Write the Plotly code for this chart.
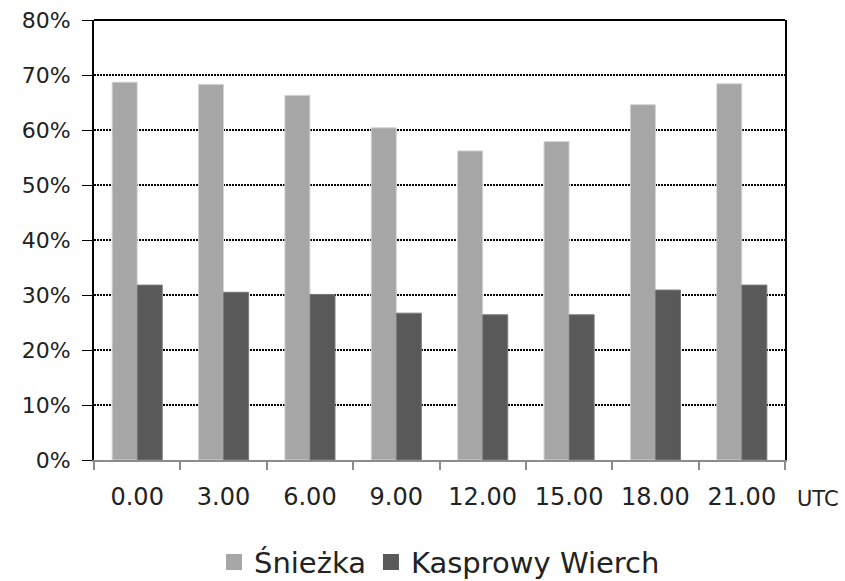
import plotly.graph_objects as go

# Hourly share of observations (%) at two mountain stations
hours = ["0.00", "3.00", "6.00", "9.00", "12.00", "15.00", "18.00", "21.00"]
sniezka = [68.7, 68.3, 66.3, 60.4, 56.2, 57.9, 64.6, 68.4]
kasprowy = [31.8, 30.5, 30.1, 26.7, 26.4, 26.4, 30.9, 31.8]

series_names = ["Śnieżka", "Kasprowy Wierch"]
series_colors = ["#a6a6a6", "#595959"]
edge_colors = ["#d4d4d4", "#7a7a7a"]

fig = go.Figure()
for name, vals, col, edge in zip(series_names, [sniezka, kasprowy], series_colors, edge_colors):
    fig.add_trace(go.Bar(
        x=hours, y=[v / 100 for v in vals], name=name,
        marker=dict(color=col, line=dict(color=edge, width=1)),
        showlegend=False,
    ))
    # legend swatch
    fig.add_trace(go.Scatter(
        x=[None], y=[None], mode="markers", name=name,
        marker=dict(symbol="square", color=col, size=16),
        showlegend=True,
    ))

fig.update_layout(
    width=845, height=581,
    margin=dict(l=94, r=60, t=20, b=121, autoexpand=False),
    paper_bgcolor="white", plot_bgcolor="white",
    barmode="group", bargap=0.42, bargroupgap=0,
    font=dict(family="DejaVu Sans", color="#222222"),
    legend=dict(
        orientation="h", x=0.5, xanchor="center", y=-0.232, yanchor="middle",
        font=dict(size=29, family="DejaVu Sans", color="#222222"),
        itemsizing="trace", tracegroupgap=0, itemwidth=30,
    ),
    showlegend=True,
)

fig.update_yaxes(
    range=[0, 0.8], dtick=0.1, tickformat=".0%", ticksuffix="\u00a0",
    showgrid=True, gridcolor="black", gridwidth=2, griddash="2px,1px",
    showline=True, linecolor="black", linewidth=2, mirror=True,
    ticks="outside", ticklen=10, tickcolor="black", tickwidth=1,
    tickfont=dict(size=22, family="DejaVu Sans", color="#222222"),
    zeroline=False,
)

fig.update_xaxes(
    type="category", showgrid=False,
    showline=True, linecolor="#8c8c8c", linewidth=2,
    ticks="outside", tickson="boundaries", ticklen=8, tickcolor="#8c8c8c", tickwidth=2,
    tickfont=dict(size=24, family="DejaVu Sans", color="#222222"),
    ticklabelstandoff=14,
)

# solid frame line along the top of the plot area
fig.add_shape(type="line", xref="paper", yref="paper", x0=0, x1=1, y0=1, y1=1,
              line=dict(color="black", width=2))

fig.add_annotation(text="UTC", xref="paper", yref="paper", x=1.048, y=-0.089,
                   xanchor="center", yanchor="middle", showarrow=False,
                   font=dict(size=21, family="DejaVu Sans", color="#222222"))

fig.write_html("out.html")
